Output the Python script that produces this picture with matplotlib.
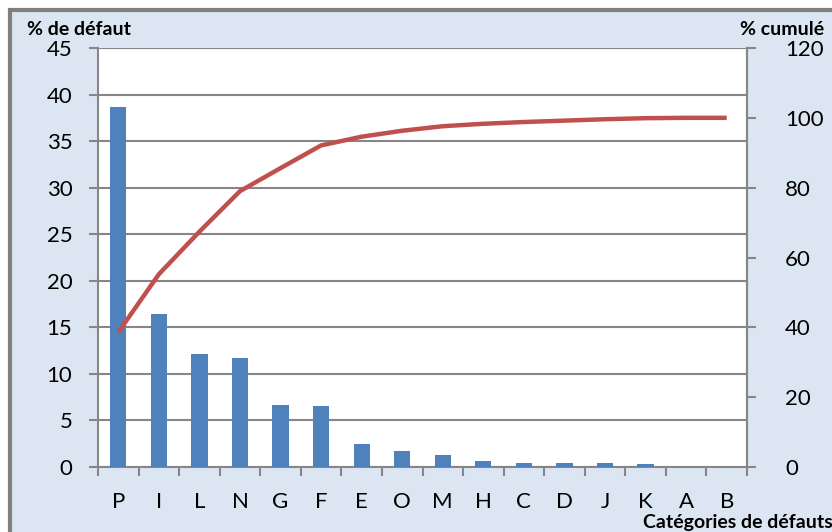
import matplotlib
matplotlib.use("Agg")
import matplotlib.pyplot as plt
from matplotlib.patches import Rectangle
from matplotlib.ticker import FixedLocator, NullFormatter

# Defect categories, sorted by share (Pareto order)
categories = ["P", "I", "L", "N", "G", "F", "E", "O", "M", "H", "C", "D", "J", "K", "A", "B"]
# Share of each defect category (%)
defect_pct = [38.7, 16.4, 12.1, 11.7, 6.66, 6.55, 2.47, 1.72, 1.29, 0.68, 0.46, 0.40, 0.40, 0.29, 0.05, 0.05]
# Cumulative share (%)
cumulative_pct = [38.6, 55.2, 67.4, 79.0, 85.6, 92.1, 94.6, 96.3, 97.6, 98.3, 98.8, 99.2, 99.6, 99.9, 100.0, 100.0]

left_ticks = [0, 5, 10, 15, 20, 25, 30, 35, 40, 45]
right_ticks = [0, 20, 40, 60, 80, 100, 120]

BLUE = "#4F81BD"
RED = "#C0504D"
GRID = "#868686"
PANEL = "#DCE6F2"
FONT = ["Lato", "DejaVu Sans"]
TICK_SIZE = 16

plt.rcParams["font.family"] = FONT

fig = plt.figure(figsize=(8.32, 5.32), dpi=100)
fig.patch.set_facecolor("white")

# Chart frame (panel background with grey border) on its own background axes
bg = fig.add_axes([0, 0, 1, 1], zorder=-10)
bg.set_xlim(0, 832)
bg.set_ylim(532, 0)
bg.axis("off")
bg.add_patch(Rectangle((9.5, 9.5), 900, 600, facecolor=PANEL,
                       edgecolor="#7F7F7F", linewidth=3))

ax = fig.add_axes([98 / 832, 1 - 467 / 532, (747 - 98) / 832, (467 - 48) / 532], zorder=1)
ax.set_facecolor("white")
x = list(range(len(categories)))

ax.bar(x, defect_pct, width=0.4, color=BLUE, zorder=3)
ax.set_xlim(-0.5, len(categories) - 0.5)
ax.set_ylim(0, 45)
ax.set_yticks(left_ticks)
ax.yaxis.grid(True, color=GRID, linewidth=1.5, zorder=1)
ax.set_axisbelow(True)

ax.set_xticks(x)
ax.set_xticklabels(categories)
ax.xaxis.set_minor_locator(FixedLocator([i - 0.5 for i in range(len(categories) + 1)]))
ax.xaxis.set_minor_formatter(NullFormatter())
ax.tick_params(axis="x", which="major", length=0, pad=18, labelsize=TICK_SIZE)
ax.tick_params(axis="x", which="minor", length=6.5, width=1.5, color=GRID, direction="out")
ax.tick_params(axis="y", length=6.5, width=1.5, color=GRID, pad=12, labelsize=TICK_SIZE)

ax.spines["top"].set_visible(False)
for side in ["left", "bottom", "right"]:
    ax.spines[side].set_color(GRID)
    ax.spines[side].set_linewidth(1.5)

ax2 = ax.twinx()
ax2.set_zorder(2)
ax2.patch.set_visible(False)
ax2.plot(x, cumulative_pct, color=RED, linewidth=3.2, zorder=4, solid_capstyle="butt")
ax2.set_ylim(0, 120)
ax2.set_yticks(right_ticks)
ax2.tick_params(axis="y", length=6.5, width=1.5, color=GRID, pad=21, labelsize=TICK_SIZE)
for side in ["top", "left", "bottom"]:
    ax2.spines[side].set_visible(False)
ax2.spines["right"].set_color(GRID)
ax2.spines["right"].set_linewidth(1.5)

fig.text(27 / 832, 1 - 35 / 532, "% de défaut", fontsize=14, fontweight="bold",
         va="baseline", ha="left")
fig.text(740 / 832, 1 - 35 / 532, "% cumulé", fontsize=14, fontweight="bold",
         va="baseline", ha="left")
fig.text(643 / 832, 1 - 528 / 532, "Catégories de défauts", fontsize=14,
         fontweight="bold", va="baseline", ha="left")

fig.savefig("out.png", dpi=100)
